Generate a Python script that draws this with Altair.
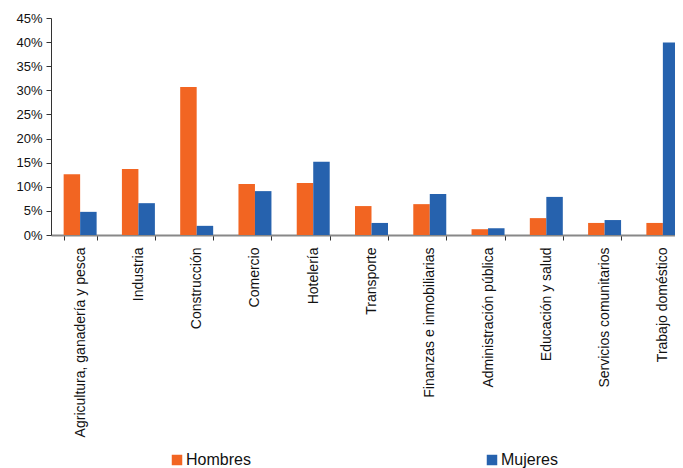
import altair as alt
import pandas as pd

categories = [
    "Agricultura, ganadería y pesca", "Industria", "Construcción", "Comercio",
    "Hotelería", "Transporte", "Finanzas e inmobiliarias", "Administración pública",
    "Educación y salud", "Servicios comunitarios", "Trabajo doméstico",
]
hombres = [12.6, 13.7, 30.7, 10.6, 10.8, 6.0, 6.4, 1.2, 3.5, 2.5, 2.5]
mujeres = [4.8, 6.6, 1.9, 9.1, 15.2, 2.5, 8.5, 1.4, 7.9, 3.1, 39.9]
series = ["Hombres", "Mujeres"]
colors = ["#F26522", "#2662AE"]
y_ticks = [0, 5, 10, 15, 20, 25, 30, 35, 40, 45]

rows = []
for c, h, m in zip(categories, hombres, mujeres):
    rows.append({"cat": c, "serie": "Hombres", "val": h})
    rows.append({"cat": c, "serie": "Mujeres", "val": m})
df = pd.DataFrame(rows)

font = "Liberation Sans"

chart = alt.Chart(df).mark_bar().encode(
    x=alt.X("cat:N", sort=categories, title=None,
            scale=alt.Scale(paddingInner=0.434, paddingOuter=0.217),
            axis=alt.Axis(labelAngle=-90, labelFontSize=14, labelFont=font,
                          labelColor="#111", tickBand="extent", tickSize=5,
                          tickColor="#333", domainColor="#888", domainWidth=2,
                          labelPadding=7, labelLimit=300)),
    xOffset=alt.XOffset("serie:N", sort=series, scale=alt.Scale(paddingInner=0, paddingOuter=0)),
    y=alt.Y("val:Q", title=None,
            scale=alt.Scale(domain=[0, 45], nice=False),
            axis=alt.Axis(values=y_ticks, labelExpr="datum.value + '%'",
                          labelFontSize=13, labelFont=font, labelColor="#111",
                          grid=False, tickSize=5, tickColor="#333",
                          domainColor="#333", labelPadding=4)),
    color=alt.Color("serie:N", sort=series,
                    scale=alt.Scale(domain=series, range=colors),
                    legend=alt.Legend(title=None, orient="none", direction="horizontal",
                                      legendX=118, legendY=434, symbolType="square",
                                      symbolSize=110, symbolStrokeWidth=0,
                                      labelFontSize=16, labelFont=font, labelColor="#111",
                                      labelOffset=1, columnPadding=233)),
).properties(
    width=641, height=217,
    autosize=alt.AutoSizeParams(type="none"),
    padding={"left": 43, "top": 10, "right": -17, "bottom": 233},
).configure_view(stroke=None)

chart.save("out.html", embed_options={"renderer": "svg", "actions": False})
